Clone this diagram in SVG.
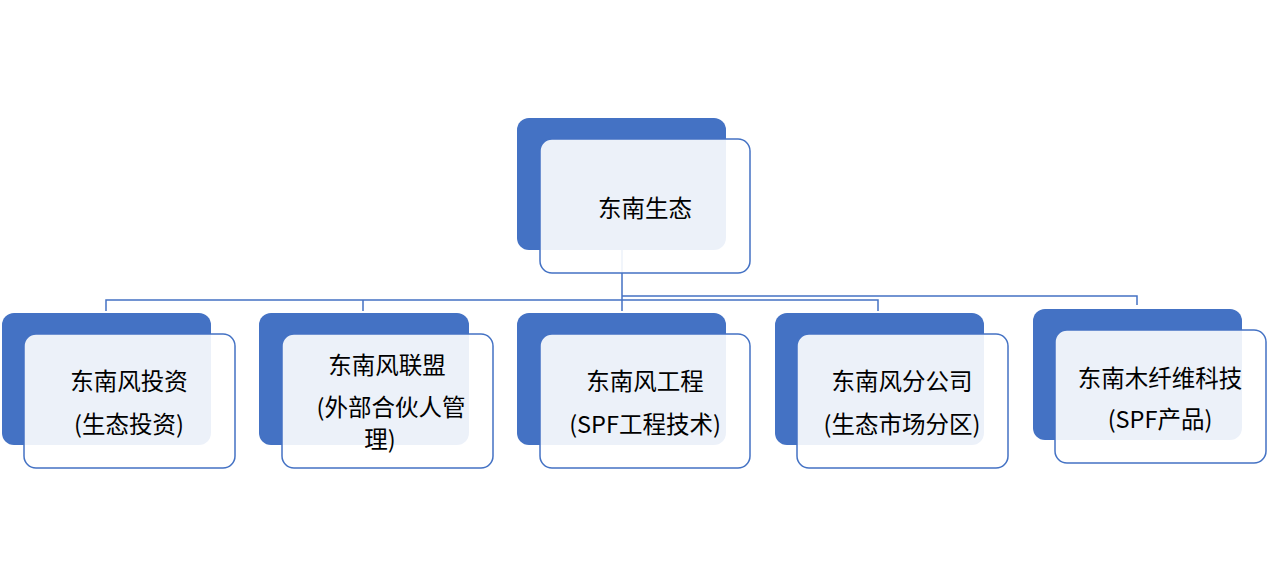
<svg xmlns="http://www.w3.org/2000/svg" width="1267" height="586" viewBox="0 0 1267 586">
<style>
.bk{fill:#4472c4}
.fr{fill:#ffffff;fill-opacity:0.9;stroke:#4472c4;stroke-width:1.5}
.t{font-family:"Noto Sans CJK SC","Noto Sans",sans-serif;font-size:23.5px;fill:#000;text-anchor:middle;dominant-baseline:central}
.c{fill:none;stroke:#4472c4;stroke-width:1.5}
</style>
<rect width="1267" height="586" fill="#fff"/>
<g id="connectors">
<path class="c" d="M622 250V311M106 311V300H878V311M363 300V311M622 296H1137V305"/>
</g>
<g id="root"><rect class="bk" x="517" y="118" width="209" height="132" rx="12"/><rect class="fr" x="540" y="139" width="210" height="134" rx="12"/><text class="t" x="645" y="207">东南生态</text></g>
<g id="n1"><rect class="bk" x="2" y="313" width="209" height="132" rx="12"/><rect class="fr" x="24" y="334" width="211" height="134" rx="12"/><text class="t" x="129" y="380">东南风投资</text><text class="t" x="129" y="423">(生态投资)</text></g>
<g id="n2"><rect class="bk" x="259" y="313" width="210" height="132" rx="12"/><rect class="fr" x="282" y="334" width="211" height="134" rx="12"/><text class="t" x="387" y="364">东南风联盟</text><text class="t" x="391" y="406">(外部合伙人管</text><text class="t" x="380" y="438">理)</text></g>
<g id="n3"><rect class="bk" x="517" y="313" width="209" height="132" rx="12"/><rect class="fr" x="540" y="334" width="210" height="134" rx="12"/><text class="t" x="645" y="380">东南风工程</text><text class="t" x="645" y="423">(SPF工程技术)</text></g>
<g id="n4"><rect class="bk" x="775" y="313" width="209" height="132" rx="12"/><rect class="fr" x="797" y="334" width="211" height="134" rx="12"/><text class="t" x="902" y="380">东南风分公司</text><text class="t" x="902" y="423">(生态市场分区)</text></g>
<g id="n5"><rect class="bk" x="1033" y="309" width="209" height="131" rx="12"/><rect class="fr" x="1055" y="330" width="211" height="133" rx="12"/><text class="t" x="1160" y="377">东南木纤维科技</text><text class="t" x="1160" y="418">(SPF产品)</text></g>
</svg>
